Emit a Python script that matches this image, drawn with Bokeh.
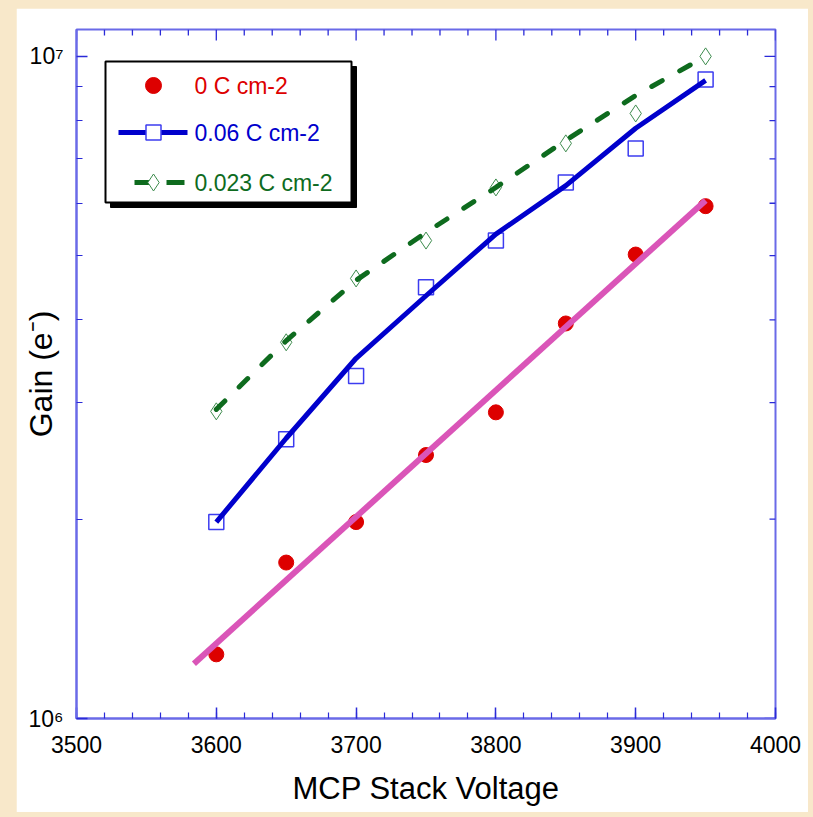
import math
from bokeh.plotting import figure
from bokeh.models import FixedTicker, Spacer
from bokeh.layouts import row, column
from bokeh.core.properties import value
from bokeh.embed import file_html
from bokeh.resources import INLINE

# ---------------- data ----------------
voltage = [3600, 3650, 3700, 3750, 3800, 3850, 3900, 3950]
gain_0c = [1.25e6, 1.72e6, 1.98e6, 2.50e6, 2.90e6, 3.95e6, 5.02e6, 5.94e6]
gain_006 = [1.98e6, 2.64e6, 3.29e6, 4.48e6, 5.27e6, 6.45e6, 7.26e6, 9.23e6]
gain_0023 = [2.91e6, 3.70e6, 4.62e6, 5.27e6, 6.34e6, 7.39e6, 8.20e6, 1.00e7]
curve_006 = [1.98e6, 2.65e6, 3.50e6, 4.35e6, 5.39e6, 6.38e6, 7.79e6, 9.20e6]
curve_0023 = [2.93e6, 3.72e6, 4.59e6, 5.42e6, 6.34e6, 7.47e6, 8.73e6, 1.00e7]
fit_voltage = [3584, 3950]
fit_gain = [1.21e6, 6.06e6]

series_labels = ["0 C cm-2", "0.06 C cm-2", "0.023 C cm-2"]
x_ticks = [3500, 3600, 3700, 3800, 3900, 4000]
x_minor = [v for v in range(3500, 4001, 20)]
y_ticks = [1e6, 1e7]
y_minor = [2e6, 3e6, 4e6, 5e6, 6e6, 7e6, 8e6, 9e6]
y_tick_labels = {1000000: "10\u2076", 10000000: "10\u2077"}

FONT = "Liberation Sans"
RED = "#DD0000"
BLUE = "#0000CC"
GREEN = "#0E6B1E"
PINK = "#DA55B8"
AXBLUE = "#6A6AE8"
TICKBLUE = "#2A2AD8"
BEIGE = "#F8E8CA"

X0, X1 = 3500, 4000
Y0, Y1 = 1e6, 1.098e7

p = figure(width=792, height=804, x_range=(X0, X1), y_range=(Y0, Y1),
           y_axis_type="log", output_backend="svg", toolbar_location=None,
           min_border_left=60, min_border_right=33, min_border_top=21,
           min_border_bottom=94, background_fill_color="white",
           border_fill_color="white")
p.grid.visible = False
p.outline_line_color = AXBLUE
p.outline_line_width = 2

FW, FH = 699.0, 689.0


def dx(px):
    return X0 + px * (X1 - X0) / FW


def dy(py):
    lo, hi = math.log10(Y0), math.log10(Y1)
    return 10 ** (hi - py * (hi - lo) / FH)


def style_axis(ax):
    ax.axis_line_color = AXBLUE
    ax.axis_line_width = 2
    ax.major_tick_line_color = TICKBLUE
    ax.minor_tick_line_color = TICKBLUE
    ax.major_tick_line_width = 1.5
    ax.minor_tick_line_width = 1.2
    ax.major_tick_in = 11
    ax.major_tick_out = 0
    ax.minor_tick_in = 6
    ax.minor_tick_out = 0
    ax.major_label_text_font = FONT
    ax.major_label_text_color = "black"
    ax.major_label_text_font_size = "23px"


xa = p.xaxis[0]
xa.ticker = FixedTicker(ticks=x_ticks, minor_ticks=x_minor)
style_axis(xa)
xa.major_label_standoff = 17
xa.axis_label = "MCP Stack Voltage"
xa.axis_label_text_font = FONT
xa.axis_label_text_font_size = "31px"
xa.axis_label_text_font_style = "normal"
xa.axis_label_text_color = "black"
xa.axis_label_standoff = 15

ya = p.yaxis[0]
ya.ticker = FixedTicker(ticks=y_ticks, minor_ticks=y_minor)
style_axis(ya)
ya.major_label_overrides = y_tick_labels
ya.major_label_standoff = 13
ya.axis_label = "Gain (e\u207b)"
ya.axis_label_text_font = FONT
ya.axis_label_text_font_size = "32px"
ya.axis_label_text_font_style = "normal"
ya.axis_label_text_color = "black"
ya.axis_label_standoff = -34

# mirrored inward ticks on the top and right frame edges
x_major_set = set(x_ticks)
top_x, top_y0, top_y1 = [], [], []
for v in x_minor:
    ln = 11 if v in x_major_set else 6
    top_x.append(v)
    top_y0.append(dy(0)); top_y1.append(dy(ln))
p.segment(top_x, top_y0, top_x, top_y1, line_color=TICKBLUE, line_width=1.3)

r_x0, r_x1, r_y = [], [], []
for v in y_ticks + y_minor:
    ln = 11 if v in y_ticks else 6
    r_x0.append(X1); r_x1.append(dx(FW - ln)); r_y.append(v)
p.segment(r_x0, r_y, r_x1, r_y, line_color=TICKBLUE, line_width=1.3)

# ---------------- data marks ----------------
p.scatter(voltage, gain_0c, marker="circle", size=15, fill_color=RED,
          line_color=RED)
p.line(fit_voltage, fit_gain, line_color=PINK, line_width=6)

p.scatter(voltage, gain_006, marker="square", size=15, fill_color=None,
          line_color="#3C3CF0", line_width=1.5)
p.line(voltage, curve_006, line_color=BLUE, line_width=5, line_join="round")

p.scatter(voltage, gain_0023, marker="diamond", size=17, fill_color=None,
          line_color="#3E8C4E", line_width=1)
p.line(voltage, curve_0023, line_color=GREEN, line_width=5,
       line_dash="12 20", line_cap="round")

# ---------------- hand-drawn legend ----------------
p.quad(left=dx(34), right=dx(280), top=dy(37), bottom=dy(178),
       fill_color="black", line_color="black")
p.quad(left=dx(29), right=dx(275), top=dy(32), bottom=dy(173),
       fill_color="white", line_color="black", line_width=2)

p.scatter([dx(77)], [dy(56)], marker="circle", size=16, fill_color=RED,
          line_color=RED)
p.line([dx(42), dx(111)], [dy(103), dy(103)], line_color=BLUE, line_width=5)
p.scatter([dx(77)], [dy(103)], marker="square", size=15, fill_color="white",
          line_color="#3C3CF0", line_width=1.5)
p.line([dx(58), dx(108)], [dy(153), dy(153)], line_color=GREEN, line_width=5,
       line_dash="18 14")
p.scatter([dx(77)], [dy(153)], marker="diamond", size=17, fill_color="white",
          line_color="#3E8C4E", line_width=1)

leg_colors = [RED, BLUE, GREEN]
leg_rows = [56, 103, 153]
for lab, col, r in zip(series_labels, leg_colors, leg_rows):
    p.text([dx(118)], [dy(r)], text=[lab], text_color=col,
           text_font=value(FONT), text_font_size="23px",
           text_baseline="middle", text_align="left")

layout = row(Spacer(width=16, height=817),
             column(Spacer(width=792, height=8), p, Spacer(width=792, height=5)),
             Spacer(width=5, height=817),
             styles={"background-color": BEIGE})

open("out.html", "w").write(file_html(layout, INLINE))
